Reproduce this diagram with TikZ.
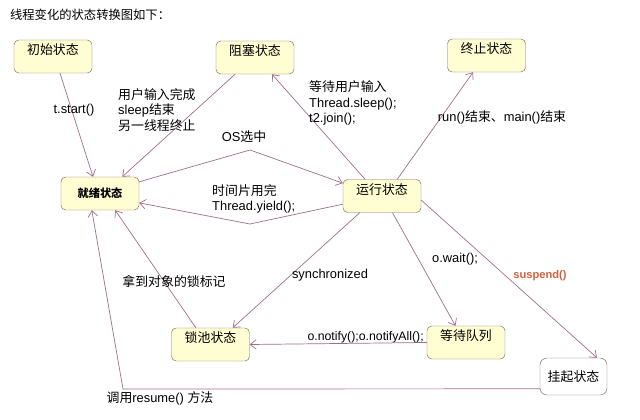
\documentclass[tikz,border=0pt]{standalone}
\usepackage{fontspec}
\setmainfont{Liberation Sans}
\newfontfamily\cjk{Noto Sans CJK SC}
\usetikzlibrary{arrows.meta}
\definecolor{boxfill}{HTML}{FFFDD2}
\definecolor{boxline}{HTML}{7D6B5E}
\definecolor{edgecol}{HTML}{9E6E8E}
\definecolor{susred}{HTML}{D2603E}
\newcommand{\zh}[1]{{\cjk #1}}

\begin{document}
\begin{tikzpicture}[x=0.03cm, y=-0.03cm, font=\fontsize{11}{13}\selectfont,
    state/.style={draw=boxline, fill=boxfill, rounded corners=4pt,
                  minimum width=2.34cm, minimum height=0.99cm, inner sep=2pt, align=center},
    topstate/.style={state, text height=10.5pt, text depth=13.5pt},
    trans/.style={draw=edgecol, line width=0.6pt, -{Straight Barb[length=5pt,width=8pt]}},
    lbl/.style={inner sep=0pt, align=left}]
    \useasboundingbox (0,0) rectangle (640,420);

    \node[anchor=west, font=\fontsize{10.5}{12}\selectfont] (title) at (6,15) {\zh{线程变化的状态转换图如下：}};

    \node[topstate] (init)  at (53,56.5)   {\zh{初始状态}};
    \node[topstate] (block) at (255,57.5)  {\zh{阻塞状态}};
    \node[topstate] (term)  at (486.5,55.5) {\zh{终止状态}};
    \node[state, font=\fontsize{9.5}{11}\selectfont\bfseries] (ready) at (100,193.5) {\zh{就绪状态}};
    \node[topstate] (run)   at (382,196)   {\zh{运行状态}};
    \node[topstate] (lock)  at (210.5,344.5) {\zh{锁池状态}};
    \node[topstate] (wait)  at (466,342.5) {\zh{等待队列}};
    \node[state, fill=white, rounded corners=6pt, minimum width=2.01cm,
          minimum height=1.11cm] (susp) at (573.5,376.5) {\zh{挂起状态}};

    \coordinate (osbend)    at (250,150);
    \coordinate (yieldbend) at (250,224);
    \coordinate (resbend)   at (123,389);

    \draw[trans] ([xshift=6pt]init.south) -- ([xshift=-6pt]ready.north);
    \draw[trans] ([xshift=-17pt]block.south) -- ([xshift=19pt]ready.north);
    \draw[trans] ([yshift=10pt]ready.east) -- (osbend) -- ([yshift=11pt]run.west);
    \draw[trans] ([yshift=-7pt]run.west) -- (yieldbend) -- ([yshift=-8pt]ready.east);
    \draw[trans] ([xshift=-14.5pt]run.north) -- ([xshift=14.5pt]block.south);
    \draw[trans] ([xshift=13pt]run.north) -- ([xshift=-11.5pt]term.south);
    \draw[trans] ([xshift=-19pt]run.south) -- ([xshift=19pt]lock.north);
    \draw[trans] ([xshift=9pt]run.south) -- ([xshift=-9pt]wait.north);
    \draw[trans] ([yshift=-3.5pt]run.east) -- ([xshift=20pt]susp.north);
    \draw[trans] (wait.west) -- (lock.east);
    \draw[trans] ([xshift=-12.5pt]lock.north) -- ([xshift=13pt]ready.south);
    \draw[trans] ([yshift=-10.5pt]susp.west) -- (resbend) -- ([xshift=-7pt]ready.south);

    \node[lbl] (lstart) at (74,110) {t.start()};
    \node[lbl, anchor=west] (lwake) at (118,110) {\zh{用户输入完成}\\sleep\zh{结束}\\\zh{另一线程终止}};
    \node[lbl] (los) at (244,137) {OS\zh{选中}};
    \node[lbl, anchor=west] (lyield) at (212,199) {\zh{时间片用完}\\Thread.yield();};
    \node[lbl, anchor=west] (lsleep) at (309,103) {\zh{等待用户输入}\\Thread.sleep();\\t2.join();};
    \node[lbl] (lend) at (502,117) {run()\zh{结束、}main()\zh{结束}};
    \node[lbl] (lsync) at (330,275) {synchronized};
    \node[lbl] (lwait) at (455,259) {o.wait();};
    \node[lbl, text=susred, font=\fontsize{9.5}{11}\selectfont\bfseries] (lsusp) at (540,276) {suspend()};
    \node[lbl, anchor=east, font=\fontsize{10.5}{12}\selectfont] (lnotify) at (424,337) {o.notify();o.notifyAll();};
    \node[lbl] (llock) at (174,281) {\zh{拿到对象的锁标记}};
    \node[lbl] (lres) at (160,398) {\zh{调用}resume() \zh{方法}};
\end{tikzpicture}
\end{document}
